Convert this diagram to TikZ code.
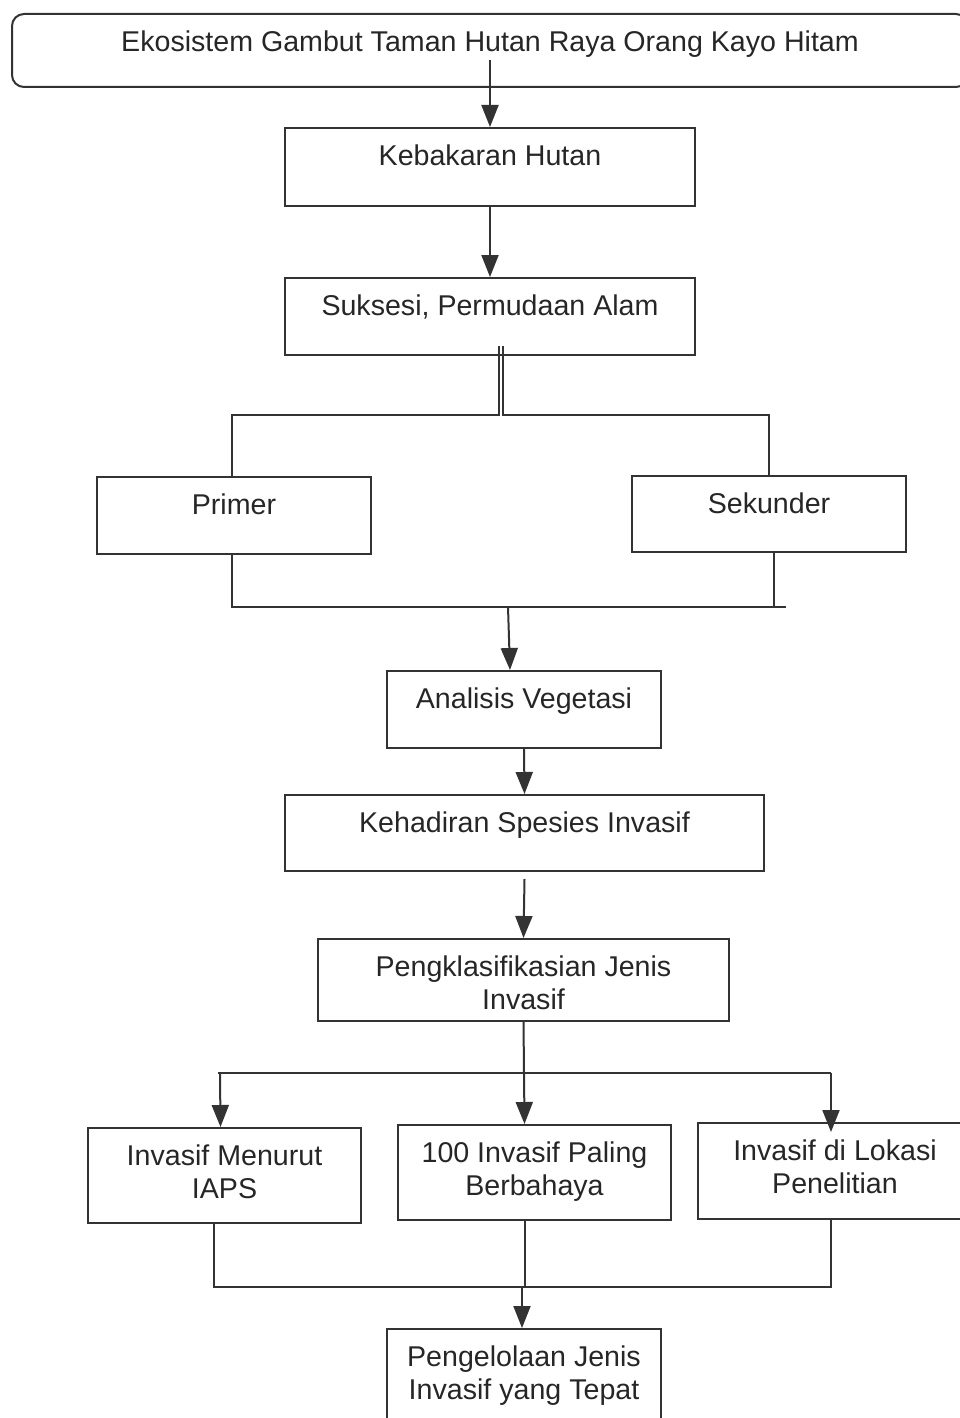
\documentclass[tikz,border=0pt]{standalone}
\usepackage{fontspec}
\setmainfont{Liberation Sans}
\usetikzlibrary{arrows.meta}

\tikzset{
  box/.style={draw=black!80, line width=2pt, minimum width=#1},
  rbox/.style={box=#1, rounded corners=12pt},
  txt/.style={anchor=north, yshift=-14pt, align=center, text=black!85,
    font=\fontsize{28.6}{33}\selectfont},
  arr/.style={-{Triangle[width=17pt,length=22pt]}},
  wire/.style={draw=black!80, line width=2pt}
}

\begin{document}
\begin{tikzpicture}[x=1pt, y=-1pt]
        \useasboundingbox (0,0) rectangle (960,1418);
        %%Boxes
        \node[rbox=956pt, minimum height=73pt, label={[txt]north:Ekosistem Gambut Taman Hutan Raya Orang Kayo Hitam}] (ekosistem) at (490,50.5) {};
        \node[box=410pt, minimum height=78pt, label={[txt]north:Kebakaran Hutan}] (kebakaran) at (490,167) {};
        \node[box=410pt, minimum height=77pt, label={[txt]north:Suksesi, Permudaan Alam}] (suksesi) at (490,316.5) {};
        \node[box=274pt, minimum height=77pt, label={[txt]north:Primer}] (primer) at (234,515.5) {};
        \node[box=274pt, minimum height=76pt, label={[txt]north:Sekunder}] (sekunder) at (769,514) {};
        \node[box=274pt, minimum height=77pt, label={[txt]north:Analisis Vegetasi}] (analisis) at (524,709.5) {};
        \node[box=479pt, minimum height=76pt, label={[txt]north:Kehadiran Spesies Invasif}] (kehadiran) at (524.5,833) {};
        \node[box=411pt, minimum height=82pt, label={[txt]north:Pengklasifikasian Jenis\\Invasif}] (klasifikasi) at (523.5,980) {};
        \node[box=273pt, minimum height=95pt, label={[txt]north:Invasif Menurut\\IAPS}] (iaps) at (224.5,1175.5) {};
        \node[box=273pt, minimum height=95pt, label={[txt]north:100 Invasif Paling\\Berbahaya}] (bahaya) at (534.5,1172.5) {};
        \node[box=274pt, minimum height=96pt, label={[txt]north:Invasif di Lokasi\\Penelitian}] (lokasi) at (835,1171) {};
        \node[box=274pt, minimum height=96pt, label={[txt]north:Pengelolaan Jenis\\Invasif yang Tepat}] (pengelolaan) at (524,1377) {};
        %%Joints
        \coordinate (fork1) at (501,415);
        \coordinate (join1) at (508,607);
        \coordinate (join1r) at (786,607);
        \coordinate (fork2) at (524,1073);
        \coordinate (join2) at (522,1287);
        %%Top chain
        \draw[wire, arr] ([yshift=-10pt]ekosistem.center) to (kebakaran.north);
        \draw[wire, arr] (kebakaran.south) to (suksesi.north);
        %%Split to Primer and Sekunder
        \draw[wire] ([xshift=9pt,yshift=10pt]suksesi.south) |- ([xshift=-2pt]fork1) -| ([xshift=-2pt]primer.north);
        \draw[wire] ([xshift=13pt,yshift=10pt]suksesi.south) |- ([xshift=2pt]fork1) -| (sekunder.north);
        %%Join to Analisis Vegetasi
        \draw[wire] ([xshift=-2pt]primer.south) |- (join1r);
        \draw[wire] ([xshift=5pt]sekunder.south) to ([xshift=5pt]sekunder.south |- join1r);
        \draw[wire, arr] (join1) to ([xshift=-14pt]analisis.north);
        \draw[wire, arr] (analisis.south) to (kehadiran.north);
        \draw[wire, arr] ([yshift=-7pt]kehadiran.south) to (klasifikasi.north);
        %%Split to three classes
        \draw[wire] (klasifikasi.south) to (fork2);
        \draw[wire] ([xshift=-306pt]fork2) to ([xshift=307pt]fork2);
        \draw[wire, arr] (fork2) to ([xshift=-10pt]bahaya.north);
        \draw[wire, arr] ([xshift=-304pt]fork2) to ([xshift=-4pt]iaps.north);
        \draw[wire, arr] ([xshift=307pt]fork2) to ([xshift=-4pt, yshift=-10pt]lokasi.north);
        %%Join to Pengelolaan
        \draw[wire] ([xshift=-11pt]iaps.south) |- (join2) -| ([xshift=-4pt]lokasi.south);
        \draw[wire] ([xshift=-10pt]bahaya.south) to ([xshift=-10pt]bahaya.south |- join2);
        \draw[wire, arr] (join2) to ([xshift=-2pt]pengelolaan.north);
\end{tikzpicture}
\end{document}
